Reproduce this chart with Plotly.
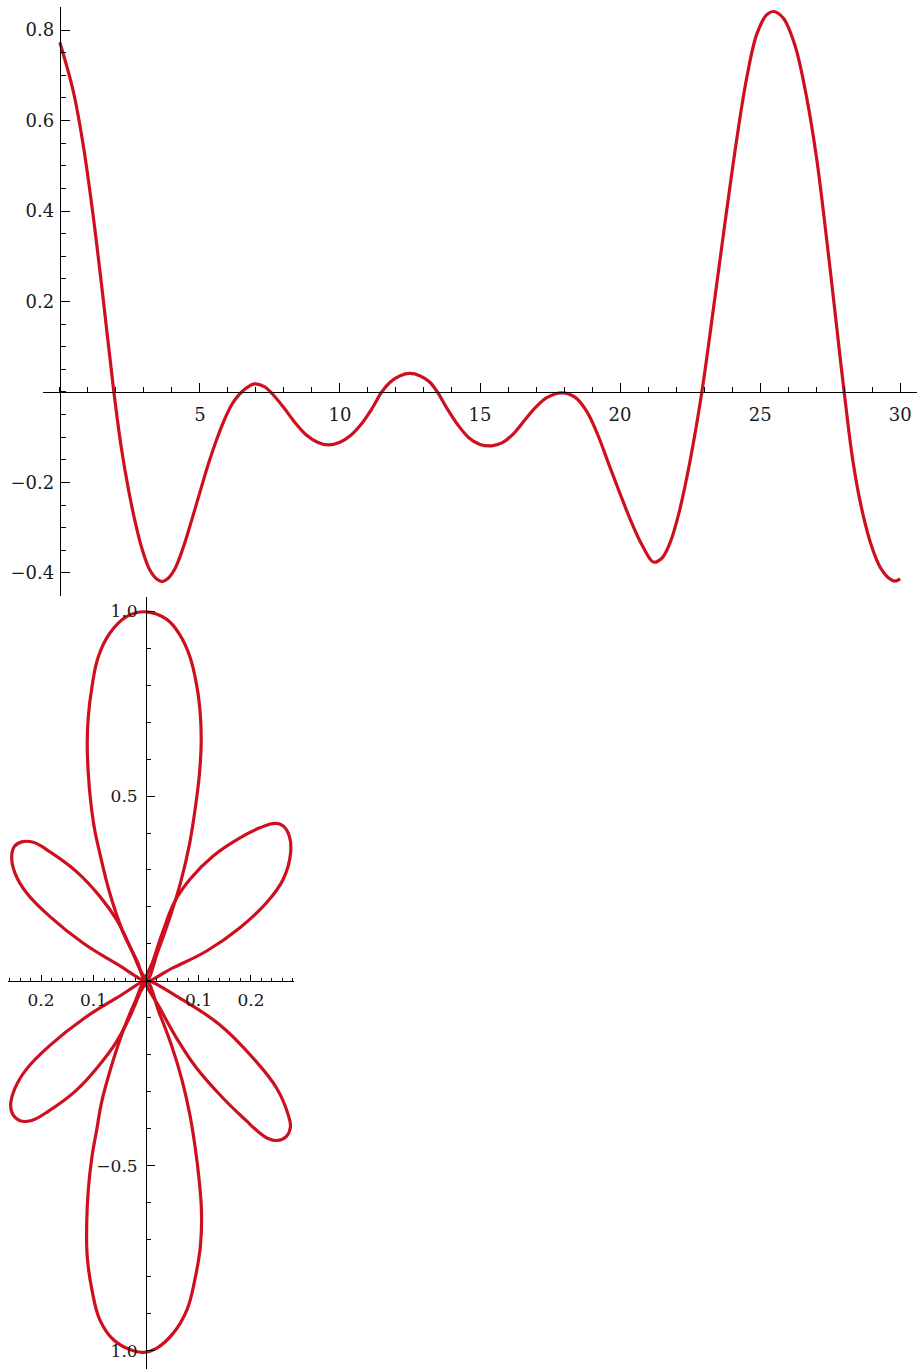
import plotly.graph_objects as go

# ---------------- upper panel: oscillating curve on 0..30 ----------------
t_vals = [0.0, 0.48, 0.83, 1.19, 1.55, 1.93, 2.2, 2.45, 2.7, 2.95, 3.2, 3.45, 3.65, 3.85,
          4.1, 4.4, 4.7, 5.0, 5.3, 5.6, 5.9, 6.2, 6.6, 6.95, 7.3, 7.6, 8.0, 8.4, 8.8,
          9.2, 9.58, 10.0, 10.4, 10.8, 11.15, 11.49, 11.8, 12.15, 12.5, 12.85, 13.2,
          13.48, 13.8, 14.2, 14.6, 15.0, 15.42, 15.8, 16.2, 16.6, 17.0, 17.4, 17.92,
          18.4, 18.8, 19.2, 19.6, 20.0, 20.4, 20.8, 21.19, 21.5, 21.8, 22.1, 22.5,
          22.92, 23.33, 23.75, 24.17, 24.52, 24.88, 25.24, 25.48, 25.83, 26.25, 26.67,
          27.02, 27.38, 27.74, 28.0, 28.33, 28.65, 29.0, 29.3, 29.6, 29.8, 30.0]
f_vals = [0.773, 0.665, 0.548, 0.39, 0.205, 0.0, -0.125, -0.215, -0.29, -0.35, -0.392,
          -0.413, -0.419, -0.413, -0.392, -0.345, -0.285, -0.222, -0.160, -0.105, -0.058,
          -0.022, 0.006, 0.018, 0.012, -0.005, -0.035, -0.068, -0.095, -0.111, -0.117,
          -0.111, -0.095, -0.068, -0.036, 0.0, 0.022, 0.036, 0.041, 0.036, 0.022, 0.0,
          -0.034, -0.072, -0.101, -0.116, -0.119, -0.112, -0.092, -0.062, -0.033, -0.012,
          -0.002, -0.012, -0.042, -0.094, -0.160, -0.225, -0.287, -0.340, -0.376, -0.367,
          -0.331, -0.268, -0.152, 0.0, 0.183, 0.376, 0.561, 0.694, 0.791, 0.834, 0.841,
          0.826, 0.765, 0.648, 0.515, 0.335, 0.14, 0.0, -0.16, -0.265, -0.345, -0.389,
          -0.412, -0.418, -0.413]

top_x_ticks = [5, 10, 15, 20, 25, 30]
top_x_labels = ["5", "10", "15", "20", "25", "30"]
top_y_ticks = [-0.4, -0.2, 0.2, 0.4, 0.6, 0.8]
top_y_labels = ["\u22120.4", "\u22120.2", "0.2", "0.4", "0.6", "0.8"]

# ---------------- lower panel: six-petal polar curve (x, y) ----------------
petal_top_x = [0, 0.0229, 0.0457, 0.0657, 0.0829, 0.0952, 0.1019, 0.1051, 0.1038, 0.0971,
               0.0838, 0.0648, 0.039, 0.0, -0.037, -0.069, -0.091, -0.103, -0.110, -0.112,
               -0.110, -0.105, -0.098, -0.088, -0.069, -0.043, -0.0171, 0]
petal_top_y = [0, 0.081, 0.173, 0.265, 0.370, 0.481, 0.562, 0.641, 0.714, 0.795, 0.876,
               0.935, 0.978, 0.998, 0.985, 0.940, 0.876, 0.795, 0.714, 0.642, 0.561,
               0.480, 0.41, 0.345, 0.237, 0.129, 0.054, 0]

petal_ur_x = [0, 0.052, 0.1156, 0.179, 0.230, 0.2615, 0.2756, 0.273, 0.2615, 0.2457, 0.217,
              0.179, 0.128, 0.0838, 0.0552, 0.0324, 0.0133, 0]
petal_ur_y = [0, 0.036, 0.081, 0.144, 0.212, 0.275, 0.347, 0.392, 0.419, 0.426, 0.414,
              0.387, 0.338, 0.275, 0.216, 0.135, 0.054, 0]

petal_ul_x = [0, -0.0558, -0.1194, -0.183, -0.227, -0.2495, -0.256, -0.251, -0.237, -0.215,
              -0.183, -0.132, -0.0876, -0.0558, -0.0305, -0.0114, 0]
petal_ul_y = [0, 0.046, 0.102, 0.174, 0.237, 0.291, 0.336, 0.363, 0.376, 0.375, 0.349,
              0.295, 0.228, 0.165, 0.093, 0.030, 0]

petal_lr_x = [0, 0.0648, 0.141, 0.2044, 0.249, 0.271, 0.2752, 0.2676, 0.2514, 0.2324,
              0.2133, 0.1905, 0.147, 0.0966, 0.0585, 0.0267, 0]
petal_lr_y = [0, -0.0468, -0.119, -0.209, -0.290, -0.362, -0.3946, -0.4203, -0.4311,
              -0.4257, -0.4068, -0.377, -0.317, -0.236, -0.155, -0.074, 0]

petal_ll_x = [0, -0.056, -0.119, -0.183, -0.227, -0.250, -0.258, -0.253, -0.240, -0.218,
              -0.185, -0.134, -0.090, -0.057, -0.030, -0.011, 0]
petal_ll_y = [0, -0.046, -0.102, -0.174, -0.237, -0.291, -0.336, -0.363, -0.378, -0.377,
              -0.351, -0.297, -0.229, -0.166, -0.094, -0.031, 0]

petal_bot_x = [0, 0.026, 0.0495, 0.0686, 0.0829, 0.0933, 0.101, 0.1057, 0.1038, 0.093,
               0.078, 0.052, 0.020, -0.005, -0.030, -0.062, -0.088, -0.103, -0.112, -0.113,
               -0.110, -0.103, -0.094, -0.085, -0.068, -0.045, -0.022, 0]
petal_bot_y = [0, -0.089, -0.178, -0.268, -0.357, -0.446, -0.535, -0.624, -0.714, -0.808,
               -0.889, -0.952, -0.993, -1.004, -0.997, -0.970, -0.916, -0.835, -0.745,
               -0.655, -0.565, -0.475, -0.403, -0.33, -0.24, -0.14, -0.06, 0]

rose_x_ticks = [-0.2, -0.1, 0.1, 0.2]
rose_x_labels = ["0.2", "0.1", "0.1", "0.2"]
rose_y_ticks = [-1.0, -0.5, 0.5, 1.0]
rose_y_labels = ["1.0", "\u22120.5", "0.5", "1.0"]

# ---------------- layout geometry ----------------
W, H = 917, 1369
CURVE = "rgb(206,16,30)"
INK = "#1a1a1a"
FONT = "DejaVu Serif"

top_xr, top_yr = [-0.6, 30.6], [-0.4501, 0.8501]
top_xd = [43 / W, 1.0]
top_yd = [(H - 595.6) / H, (H - 7.4) / H]

rose_xr, rose_yr = [-0.263, 0.282], [-1.049, 1.038]
rose_xd = [8 / W, 294 / W]
rose_yd = [0.0, (H - 597) / H]


def frac(v, rng, dom):
    return dom[0] + (v - rng[0]) / (rng[1] - rng[0]) * (dom[1] - dom[0])


def axis(rng, dom, pos, vals, text, major, minor_len, minor_step, size, standoff):
    return dict(
        range=rng, domain=dom, anchor="free", position=pos,
        showline=True, linecolor="black", linewidth=1,
        showgrid=False, zeroline=False, fixedrange=True,
        ticks="inside", ticklen=major, tickwidth=1, tickcolor="black",
        tickmode="array", tickvals=vals, ticktext=text,
        tickfont=dict(family=FONT, size=size, color=INK),
        ticklabelstandoff=standoff,
        minor=dict(ticks="inside", ticklen=minor_len, tickwidth=1, tickcolor="black",
                   tick0=0, dtick=minor_step, showgrid=False),
    )


curve_style = dict(color=CURVE, width=3.2, shape="spline", smoothing=1.0)
petal_style = dict(color=CURVE, width=3.2, shape="spline", smoothing=1.15)

fig = go.Figure()
fig.add_trace(go.Scatter(x=t_vals, y=f_vals, mode="lines", line=curve_style,
                         xaxis="x", yaxis="y", hoverinfo="skip"))

for px_, py_ in [(petal_top_x, petal_top_y), (petal_ur_x, petal_ur_y),
                 (petal_ul_x, petal_ul_y), (petal_lr_x, petal_lr_y),
                 (petal_ll_x, petal_ll_y), (petal_bot_x, petal_bot_y)]:
    fig.add_trace(go.Scatter(x=px_, y=py_, mode="lines", line=petal_style,
                             xaxis="x2", yaxis="y2", hoverinfo="skip"))

fig.update_layout(
    width=W, height=H, margin=dict(l=0, r=0, t=0, b=0),
    paper_bgcolor="white", plot_bgcolor="white", showlegend=False,
    xaxis=axis(top_xr, top_xd, frac(0, top_yr, top_yd), top_x_ticks, top_x_labels,
               9, 5, 1, 18, 6),
    yaxis=axis(top_yr, top_yd, frac(0, top_xr, top_xd), top_y_ticks, top_y_labels,
               9, 5, 0.05, 18, 2),
    xaxis2=axis(rose_xr, rose_xd, frac(0, rose_yr, rose_yd), rose_x_ticks, rose_x_labels,
                6, 3, 0.02, 17, 4),
    yaxis2=axis(rose_yr, rose_yd, frac(0, rose_xr, rose_xd), rose_y_ticks, rose_y_labels,
                8, 4, 0.1, 17, 5),
)

fig.write_html("out.html")
